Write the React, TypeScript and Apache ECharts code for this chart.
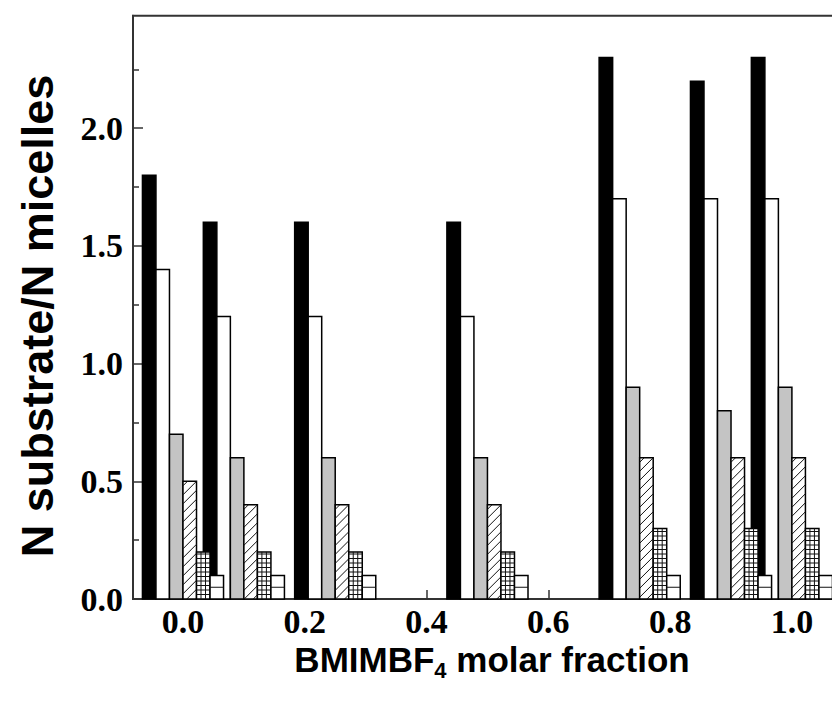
import React, { useEffect, useRef } from "react";
import * as echarts from "echarts";

// BMIMBF4 molar fraction of each group of bars
const fractions = [0, 0.1, 0.25, 0.5, 0.75, 0.9, 1.0];
// N substrate / N micelles, one array per bar kind (left to right inside a group)
const blackBars = [1.8, 1.6, 1.6, 1.6, 2.3, 2.2, 2.3];
const whiteBars = [1.4, 1.2, 1.2, 1.2, 1.7, 1.7, 1.7];
const grayBars = [0.7, 0.6, 0.6, 0.6, 0.9, 0.8, 0.9];
const hatchedBars = [0.5, 0.4, 0.4, 0.4, 0.6, 0.6, 0.6];
const crossedBars = [0.2, 0.2, 0.2, 0.2, 0.3, 0.3, 0.3];
const linedBars = [0.1, 0.1, 0.1, 0.1, 0.1, 0.1, 0.1];

const xTickValues = [0, 0.2, 0.4, 0.6, 0.8, 1.0];
const yTickValues = [0, 0.5, 1.0, 1.5, 2.0];
const yMinorTickValues = [0.25, 0.75, 1.25, 1.75, 2.25];

const BAR_W = 0.0222; // bar width in x-axis units

type Kind = "black" | "white" | "gray" | "hatched" | "crossed" | "lined";

const kinds: { kind: Kind; values: number[] }[] = [
  { kind: "black", values: blackBars },
  { kind: "white", values: whiteBars },
  { kind: "gray", values: grayBars },
  { kind: "hatched", values: hatchedBars },
  { kind: "crossed", values: crossedBars },
  { kind: "lined", values: linedBars },
];

function makeRender(k: number, kind: Kind) {
  return (params: any, api: any) => {
    const x = api.value(0);
    const v = api.value(1);
    const left = x + (k - 3) * BAR_W;
    const p0 = api.coord([left, v]);
    const p1 = api.coord([left + BAR_W, 0]);
    const x0 = p0[0];
    const y0 = p0[1];
    const x1 = p1[0];
    const y1 = p1[1];
    const fill =
      kind === "black" ? "#000" : kind === "gray" ? "#c4c4c4" : "#fff";
    const children: any[] = [];
    children.push({
      type: "rect",
      shape: { x: x0, y: y0, width: x1 - x0, height: y1 - y0 },
      style: { fill, stroke: "#000", lineWidth: 1.5 },
    });
    const lineStyle = { stroke: "#111", lineWidth: 1 };
    if (kind === "hatched") {
      const step = 9;
      for (let c = x0 + y0 + step / 2; c < x1 + y1; c += step) {
        const xa = Math.max(x0, c - y1);
        const xb = Math.min(x1, c - y0);
        if (xb - xa < 0.5) continue;
        children.push({
          type: "line",
          shape: { x1: xa, y1: c - xa, x2: xb, y2: c - xb },
          style: lineStyle,
        });
      }
    } else if (kind === "crossed") {
      const step = 4.5;
      for (let xx = x0 + step; xx < x1 - 1; xx += step) {
        children.push({
          type: "line",
          shape: { x1: xx, y1: y0, x2: xx, y2: y1 },
          style: lineStyle,
        });
      }
      for (let yy = y1 - step; yy > y0 + 1; yy -= step) {
        children.push({
          type: "line",
          shape: { x1: x0, y1: yy, x2: x1, y2: yy },
          style: lineStyle,
        });
      }
    } else if (kind === "lined") {
      const step = 11.75;
      for (let yy = y1 - step; yy > y0 + 2; yy -= step) {
        children.push({
          type: "line",
          shape: { x1: x0, y1: yy, x2: x1, y2: yy },
          style: lineStyle,
        });
      }
    }
    return { type: "group", children };
  };
}

export default function App() {
  const ref = useRef<HTMLDivElement>(null);
  useEffect(() => {
    if (!ref.current) return;
    const chart = echarts.init(ref.current, undefined, { renderer: "svg" });
    const labelFont = {
      fontFamily: "Liberation Serif",
      fontWeight: "bold" as const,
      fontSize: 34,
      color: "#000",
    };
    chart.setOption({
      animation: false,
      backgroundColor: "#fff",
      grid: {
        left: 133,
        top: 15.7,
        width: 719.8,
        height: 583.3,
        containLabel: false,
        outerBoundsMode: "none",
        show: true,
        borderColor: "#333",
        borderWidth: 2,
        backgroundColor: "transparent",
      },
      xAxis: {
        type: "value",
        min: -0.0821,
        max: 1.1,
        axisLine: {
          show: true,
          onZero: false,
          lineStyle: { color: "#333", width: 2 },
        },
        axisTick: {
          show: true,
          inside: true,
          length: 9,
          customValues: xTickValues,
          lineStyle: { color: "#333", width: 1.5 },
        },
        axisLabel: {
          ...labelFont,
          margin: 5,
          customValues: xTickValues,
          formatter: (v: number) => v.toFixed(1),
        },
        splitLine: { show: false },
      },
      yAxis: [
        {
          type: "value",
          min: 0,
          max: 2.478,
          position: "left",
          axisLine: {
            show: true,
            onZero: false,
            lineStyle: { color: "#333", width: 2 },
          },
          axisTick: {
            show: true,
            inside: true,
            length: 10,
            customValues: yTickValues,
            lineStyle: { color: "#333", width: 1.5 },
          },
          axisLabel: {
            ...labelFont,
            margin: 10,
            customValues: yTickValues,
            formatter: (v: number) => v.toFixed(1),
          },
          splitLine: { show: false },
        },
        {
          type: "value",
          min: 0,
          max: 2.478,
          position: "left",
          offset: 0,
          axisLine: { show: false, onZero: false },
          axisTick: {
            show: true,
            inside: true,
            length: 6,
            customValues: yMinorTickValues,
            lineStyle: { color: "#333", width: 1.5 },
          },
          axisLabel: { show: false },
          splitLine: { show: false },
        },
      ],
      graphic: [
        {
          type: "text",
          x: 492,
          y: 659,
          style: {
            text: "{a|BMIMBF}{s|4}{a| molar fraction}",
            align: "center",
            verticalAlign: "middle",
            rich: {
              a: {
                fontFamily: "Liberation Sans",
                fontWeight: "bold",
                fontSize: 35,
                fill: "#000",
                lineHeight: 30,
              },
              s: {
                fontFamily: "Liberation Sans",
                fontWeight: "bold",
                fontSize: 22,
                fill: "#000",
                padding: [22, 0, 0, 0],
                lineHeight: 30,
              },
            },
          },
        },
        {
          type: "text",
          x: 37,
          y: 316,
          rotation: Math.PI / 2,
          style: {
            text: "N substrate/N micelles",
            align: "center",
            verticalAlign: "middle",
            fontFamily: "Liberation Sans",
            fontWeight: "bold",
            fontSize: 45,
            fill: "#000",
          },
        },
      ],
      series: kinds.map((s, k) => ({
        type: "custom",
        name: s.kind,
        xAxisIndex: 0,
        yAxisIndex: 0,
        renderItem: makeRender(k, s.kind),
        encode: { x: 0, y: 1 },
        data: fractions.map((f, i) => [f, s.values[i]]),
      })),
    });
    return () => chart.dispose();
  }, []);
  return (
    <div
      style={{
        position: "absolute",
        left: 0,
        top: 0,
        width: 832,
        height: 707,
        overflow: "hidden",
      }}
    >
      <div ref={ref} style={{ width: 880, height: 707 }} />
    </div>
  );
}
